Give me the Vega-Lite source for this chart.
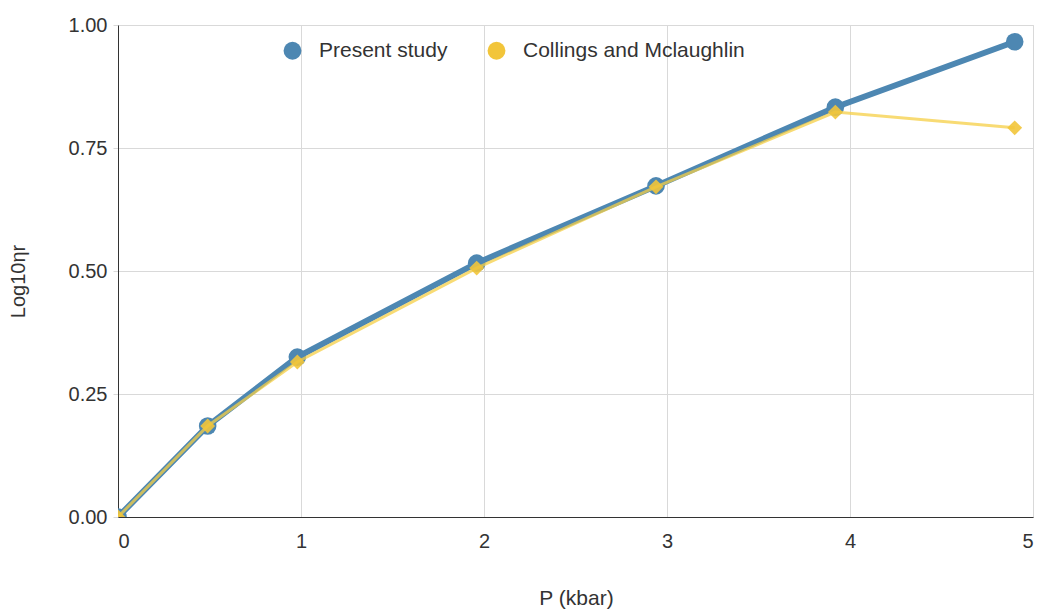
{
  "$schema": "https://vega.github.io/schema/vega-lite/v6.json",
  "width": 915,
  "height": 492,
  "autosize": {"type": "none"},
  "padding": {"left": 118, "top": 25, "right": 4, "bottom": 92},
  "background": "white",
  "config": {
    "view": {"stroke": "#dddddd"},
    "font": "Liberation Sans",
    "axis": {"labelFont": "Liberation Sans", "titleFont": "Liberation Sans", "labelColor": "#333333", "titleColor": "#333333", "labelFontSize": 20, "titleFontSize": 20, "titleFontWeight": "normal", "gridColor": "#d9d9d9", "domainColor": "#333333"}
  },
  "data": {
    "values": [
      {"series": "Present study", "P": 0, "eta": 0},
      {"series": "Present study", "P": 0.49, "eta": 0.185},
      {"series": "Present study", "P": 0.98, "eta": 0.325},
      {"series": "Present study", "P": 1.96, "eta": 0.516},
      {"series": "Present study", "P": 2.94, "eta": 0.673},
      {"series": "Present study", "P": 3.92, "eta": 0.833},
      {"series": "Present study", "P": 4.9, "eta": 0.966},
      {"series": "Collings and Mclaughlin", "P": 0, "eta": 0},
      {"series": "Collings and Mclaughlin", "P": 0.49, "eta": 0.185},
      {"series": "Collings and Mclaughlin", "P": 0.98, "eta": 0.315},
      {"series": "Collings and Mclaughlin", "P": 1.96, "eta": 0.506},
      {"series": "Collings and Mclaughlin", "P": 2.94, "eta": 0.671},
      {"series": "Collings and Mclaughlin", "P": 3.92, "eta": 0.823},
      {"series": "Collings and Mclaughlin", "P": 4.9, "eta": 0.791}
    ]
  },
  "encoding": {
    "x": {"field": "P", "type": "quantitative", "scale": {"domain": [0, 5], "nice": false}, "axis": {"title": "P (kbar)", "values": [0, 1, 2, 3, 4, 5], "format": "d", "tickSize": 0, "labelPadding": 14, "titleFontSize": 21, "titleX": 458, "titleY": 81, "titleBaseline": "middle", "titleAlign": "center"}},
    "y": {"field": "eta", "type": "quantitative", "scale": {"domain": [0, 1], "nice": false}, "axis": {"title": "Log10ηr", "values": [0, 0.25, 0.5, 0.75, 1], "format": ".2f", "tickSize": 5, "tickColor": "#d9d9d9", "labelPadding": 6, "titleX": -100, "titleY": 256, "titleAngle": -90, "titleBaseline": "middle", "titleAlign": "center"}}
  },
  "layer": [
    {
      "transform": [{"filter": "datum.series === 'Present study'"}],
      "mark": {"type": "line", "strokeWidth": 6, "color": "#4d87b2", "clip": true}
    },
    {
      "transform": [{"filter": "datum.series === 'Present study'"}],
      "mark": {"type": "point", "shape": "circle", "filled": true, "size": 310, "opacity": 1, "color": "#4d87b2", "clip": true}
    },
    {
      "transform": [{"filter": "datum.series === 'Collings and Mclaughlin'"}],
      "mark": {"type": "line", "strokeWidth": 3, "color": "#f5cf45", "opacity": 0.75, "clip": true}
    },
    {
      "transform": [{"filter": "datum.series === 'Collings and Mclaughlin'"}],
      "mark": {"type": "point", "shape": "diamond", "filled": true, "size": 220, "opacity": 0.9, "clip": true},
      "encoding": {
        "color": {"field": "series", "type": "nominal",
          "scale": {"domain": ["Present study", "Collings and Mclaughlin"], "range": ["#4d87b2", "#f2c53a"]},
          "legend": {"title": null, "orient": "none", "legendX": 164, "legendY": 15, "direction": "horizontal", "symbolType": "circle", "symbolSize": 320, "symbolOpacity": 1, "labelFontSize": 21, "labelLimit": 500, "labelColor": "#333333", "labelFont": "Liberation Sans", "columnPadding": 38, "labelOffset": 16}
        }
      }
    }
  ]
}
